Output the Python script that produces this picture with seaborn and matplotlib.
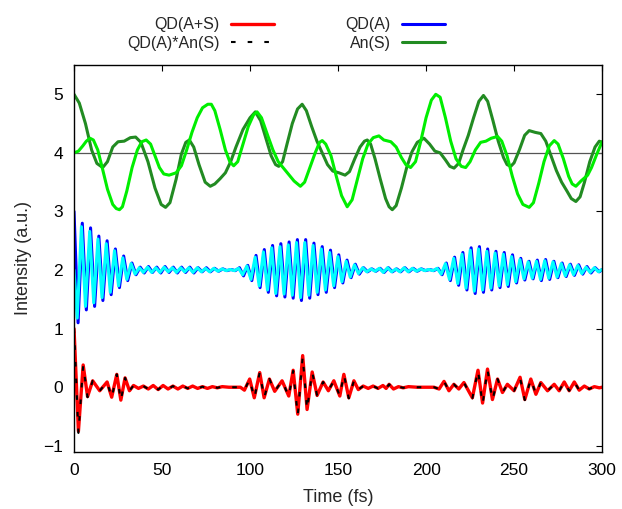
import matplotlib
matplotlib.use("Agg")
import matplotlib.pyplot as plt
import seaborn as sns

# ---- An(S), dark green curve (around 4) ----
t_an_s = [0.0, 3.0, 6.5, 10.0, 13.0, 16.3, 19.0, 22.0, 25.0, 28.5,
          32.0, 35.0, 38.0, 42.0, 46.0, 49.5, 52.0, 54.5, 58.0, 61.0,
          63.5, 65.5, 68.0, 71.0, 74.5, 77.4, 80.0, 83.0, 86.0, 89.0,
          92.0, 96.0, 100.0, 103.0, 106.0, 109.0, 112.0, 114.5, 116.3, 118.5,
          121.0, 124.0, 127.0, 129.6, 132.0, 135.0, 138.0, 141.0, 144.0, 147.0,
          150.5, 154.0, 156.5, 159.5, 162.5, 165.0, 166.6, 168.5, 171.0, 174.0,
          177.0, 179.0, 180.8, 183.0, 186.0, 189.0, 192.0, 195.0, 198.8, 202.0,
          205.0, 208.0, 211.0, 213.5, 215.9, 218.5, 221.0, 224.0, 227.0, 230.0,
          232.6, 235.0, 238.0, 241.0, 244.0, 246.0, 248.1, 250.0, 253.0, 256.0,
          258.6, 262.0, 265.2, 268.0, 271.0, 274.0, 277.0, 280.0, 282.5, 285.1,
          287.5, 290.0, 293.0, 296.0, 298.4, 300.0]
an_s = [5.00, 4.85, 4.50, 4.05, 3.82, 3.75, 3.85, 4.10, 4.19, 4.20,
        4.26, 4.27, 4.18, 3.85, 3.40, 3.12, 3.07, 3.15, 3.55, 3.98,
        4.18, 4.22, 4.10, 3.80, 3.50, 3.43, 3.47, 3.56, 3.66, 3.85,
        4.10, 4.40, 4.60, 4.70, 4.55, 4.25, 3.95, 3.80, 3.77, 3.85,
        4.15, 4.50, 4.75, 4.83, 4.72, 4.45, 4.20, 4.00, 3.80, 3.69,
        3.66, 3.62, 3.68, 3.90, 4.10, 4.20, 4.22, 4.15, 3.90, 3.55,
        3.22, 3.08, 3.03, 3.10, 3.40, 3.75, 4.02, 4.18, 4.25, 4.15,
        4.03, 4.00, 3.88, 3.77, 3.74, 3.82, 4.05, 4.30, 4.60, 4.88,
        4.98, 4.88, 4.55, 4.20, 3.92, 3.80, 3.77, 3.83, 4.05, 4.30,
        4.38, 4.35, 4.33, 4.20, 3.95, 3.70, 3.50, 3.35, 3.22, 3.17,
        3.25, 3.50, 3.85, 4.10, 4.20, 4.18]

# ---- second (bright green) curve around 4, not in the key ----
t_an_s_b = [0.0, 2.5, 5.0, 7.0, 9.1, 11.0, 13.5, 16.0, 19.0, 22.0,
            24.0, 25.8, 27.5, 30.0, 33.0, 36.0, 38.5, 41.0, 43.5, 46.0,
            48.5, 51.0, 54.0, 58.0, 61.0, 64.0, 67.0, 70.0, 73.0, 76.0,
            78.0, 80.0, 83.0, 86.0, 88.5, 90.7, 93.0, 96.0, 99.0, 102.0,
            104.0, 106.5, 110.0, 113.0, 116.0, 119.0, 122.0, 125.0, 128.6, 131.0,
            134.0, 137.0, 139.5, 141.0, 143.0, 146.0, 149.0, 152.0, 155.2, 158.0,
            161.0, 164.0, 167.0, 170.0, 173.2, 176.0, 180.0, 183.0, 186.0, 188.5,
            191.2, 194.0, 197.0, 200.0, 203.0, 205.5, 208.0, 211.0, 214.0, 217.0,
            220.0, 222.5, 225.0, 228.0, 231.0, 234.0, 237.0, 240.6, 243.0, 246.0,
            249.0, 252.0, 255.0, 258.6, 261.0, 264.0, 267.0, 270.0, 272.8, 275.0,
            278.0, 281.0, 283.0, 285.1, 288.0, 291.8, 294.0, 297.0, 300.0]
an_s_b = [4.00, 4.03, 4.12, 4.20, 4.25, 4.22, 4.05, 3.75, 3.38, 3.12,
          3.05, 3.03, 3.08, 3.35, 3.75, 4.05, 4.19, 4.22, 4.15, 3.95,
          3.75, 3.64, 3.62, 3.66, 3.78, 4.05, 4.35, 4.60, 4.77, 4.83,
          4.83, 4.72, 4.40, 4.05, 3.85, 3.78, 3.85, 4.15, 4.45, 4.65,
          4.70, 4.60, 4.30, 4.05, 3.85, 3.74, 3.63, 3.52, 3.43, 3.50,
          3.75, 4.00, 4.18, 4.21, 4.15, 3.95, 3.60, 3.27, 3.08, 3.20,
          3.55, 3.90, 4.15, 4.26, 4.29, 4.22, 4.19, 4.10, 3.92, 3.80,
          3.75, 3.85, 4.20, 4.60, 4.90, 5.00, 4.95, 4.60, 4.20, 3.90,
          3.77, 3.75, 3.85, 4.05, 4.18, 4.20, 4.25, 4.28, 4.20, 3.95,
          3.60, 3.30, 3.12, 3.07, 3.15, 3.48, 3.85, 4.12, 4.21, 4.15,
          3.90, 3.60, 3.47, 3.43, 3.52, 3.62, 3.75, 3.98, 4.19]

# ---- QD(A), blue (around 2), turning points ----
t_qd_a = [0.0, 2.3, 4.7, 7.0, 9.4, 11.7, 14.1, 16.4, 18.8, 21.1,
          23.5, 25.8, 28.2, 30.5, 32.9, 35.2, 37.6, 39.9, 42.3, 44.6,
          47.0, 49.3, 51.7, 54.0, 56.4, 58.7, 61.1, 63.4, 65.8, 68.1,
          70.5, 72.8, 75.2, 77.5, 79.9, 82.2, 84.6, 86.9, 89.3, 91.6,
          94.0, 96.3, 98.7, 101.0, 103.4, 105.7, 108.1, 110.4, 112.8, 115.1,
          117.5, 119.8, 122.2, 124.5, 126.9, 129.2, 131.6, 133.9, 136.3, 138.6,
          141.0, 143.3, 145.7, 148.0, 150.4, 152.7, 155.1, 157.4, 159.8, 162.1,
          164.5, 166.8, 169.2, 171.5, 173.9, 176.2, 178.6, 180.9, 183.3, 185.6,
          188.0, 190.3, 192.7, 195.0, 197.4, 199.7, 202.1, 204.4, 206.8, 209.1,
          211.5, 213.8, 216.2, 218.5, 220.9, 223.2, 225.6, 227.9, 230.3, 232.6,
          235.0, 237.3, 239.7, 242.0, 244.4, 246.7, 249.1, 251.4, 253.8, 256.1,
          258.5, 260.8, 263.2, 265.5, 267.9, 270.2, 272.6, 274.9, 277.3, 279.6,
          282.0, 284.3, 286.7, 289.0, 291.4, 293.7, 296.1, 298.4, 300.0]
qd_a = [3.00, 1.10, 2.80, 1.32, 2.72, 1.38, 2.58, 1.48, 2.50, 1.58,
        2.36, 1.70, 2.24, 1.82, 2.12, 1.92, 2.05, 1.95, 2.06, 1.96,
        2.05, 1.95, 2.06, 1.96, 2.05, 1.95, 2.05, 1.96, 2.05, 1.95,
        2.04, 1.97, 2.04, 1.97, 2.03, 1.98, 2.02, 1.99, 2.01, 1.99,
        2.04, 1.90, 2.08, 1.82, 2.25, 1.70, 2.35, 1.62, 2.42, 1.56,
        2.45, 1.54, 2.48, 1.52, 2.52, 1.48, 2.52, 1.52, 2.46, 1.58,
        2.40, 1.62, 2.34, 1.70, 2.26, 1.78, 2.17, 1.87, 2.10, 1.93,
        2.04, 1.97, 2.02, 1.98, 2.03, 1.96, 2.04, 1.97, 2.02, 1.97,
        2.04, 1.97, 2.03, 1.98, 2.02, 1.99, 2.01, 1.99, 2.03, 1.92,
        2.12, 1.82, 2.22, 1.74, 2.30, 1.66, 2.38, 1.60, 2.40, 1.62,
        2.36, 1.66, 2.32, 1.70, 2.30, 1.72, 2.26, 1.78, 2.20, 1.83,
        2.15, 1.85, 2.17, 1.82, 2.18, 1.84, 2.15, 1.87, 2.12, 1.89,
        2.10, 1.91, 2.09, 1.93, 2.06, 1.95, 2.04, 1.97, 2.01]

# ---- second (cyan) curve around 2, not in the key ----
t_qd_a_b = [0.0, 1.8, 4.2, 6.5, 8.9, 11.2, 13.6, 15.9, 18.3, 20.6,
            23.0, 25.3, 27.7, 30.0, 32.4, 34.7, 37.1, 39.4, 41.8, 44.1,
            46.5, 48.8, 51.2, 53.5, 55.9, 58.2, 60.6, 62.9, 65.3, 67.6,
            70.0, 72.3, 74.7, 77.0, 79.4, 81.7, 84.1, 86.4, 88.8, 91.1,
            93.5, 95.8, 98.2, 100.5, 102.9, 105.2, 107.6, 109.9, 112.3, 114.6,
            117.0, 119.3, 121.7, 124.0, 126.4, 128.7, 131.1, 133.4, 135.8, 138.1,
            140.5, 142.8, 145.2, 147.5, 149.9, 152.2, 154.6, 156.9, 159.3, 161.6,
            164.0, 166.3, 168.7, 171.0, 173.4, 175.7, 178.1, 180.4, 182.8, 185.1,
            187.5, 189.8, 192.2, 194.5, 196.9, 199.2, 201.6, 203.9, 206.3, 208.6,
            211.0, 213.3, 215.7, 218.0, 220.4, 222.7, 225.1, 227.4, 229.8, 232.1,
            234.5, 236.8, 239.2, 241.5, 243.9, 246.2, 248.6, 250.9, 253.3, 255.6,
            258.0, 260.3, 262.7, 265.0, 267.4, 269.7, 272.1, 274.4, 276.8, 279.1,
            281.5, 283.8, 286.2, 288.5, 290.9, 293.2, 295.6, 297.9, 300.0]
qd_a_b = [2.00, 1.18, 2.74, 1.38, 2.66, 1.44, 2.53, 1.53, 2.45, 1.62,
          2.33, 1.73, 2.21, 1.84, 2.11, 1.93, 2.04, 1.96, 2.05, 1.96,
          2.04, 1.96, 2.05, 1.97, 2.04, 1.96, 2.04, 1.97, 2.04, 1.96,
          2.04, 1.97, 2.03, 1.97, 2.03, 1.98, 2.02, 1.99, 2.01, 1.99,
          2.03, 1.92, 2.07, 1.84, 2.22, 1.73, 2.31, 1.66, 2.38, 1.60,
          2.40, 1.59, 2.43, 1.57, 2.47, 1.53, 2.47, 1.57, 2.42, 1.62,
          2.36, 1.66, 2.30, 1.73, 2.23, 1.80, 2.15, 1.88, 2.09, 1.94,
          2.04, 1.97, 2.02, 1.98, 2.03, 1.96, 2.04, 1.97, 2.02, 1.97,
          2.04, 1.97, 2.03, 1.98, 2.02, 1.99, 2.01, 1.99, 2.03, 1.93,
          2.11, 1.84, 2.20, 1.77, 2.27, 1.69, 2.34, 1.64, 2.36, 1.66,
          2.32, 1.69, 2.29, 1.73, 2.27, 1.75, 2.23, 1.80, 2.18, 1.85,
          2.14, 1.86, 2.15, 1.84, 2.16, 1.86, 2.14, 1.88, 2.11, 1.90,
          2.09, 1.92, 2.08, 1.94, 2.05, 1.96, 2.04, 1.97, 2.01]

# ---- QD(A+S) (red) and QD(A)*An(S) (black dashed), around 0 ----
t_qd_as = [0.0, 2.5, 5.2, 7.7, 10.6, 14.6, 18.8, 21.4, 24.3, 26.6,
           29.0, 31.5, 33.8, 36.6, 39.4, 42.2, 45.0, 47.8, 50.6, 53.4,
           56.2, 59.0, 61.8, 64.6, 67.4, 70.2, 73.0, 75.8, 78.6, 81.4,
           84.2, 88.0, 92.0, 94.5, 96.8, 99.8, 102.4, 105.5, 108.0, 111.0,
           114.0, 118.2, 122.0, 124.5, 127.1, 129.9, 132.4, 135.3, 138.1, 141.5,
           144.5, 147.6, 151.0, 153.3, 156.1, 159.0, 161.5, 164.3, 167.1, 169.9,
           172.7, 175.5, 177.3, 179.0, 181.5, 184.3, 187.0, 190.0, 195.0, 200.0,
           204.5, 207.4, 210.2, 213.0, 215.8, 218.6, 221.5, 226.3, 229.5, 232.1,
           234.9, 237.7, 240.6, 243.4, 246.2, 250.0, 253.4, 256.1, 259.5, 262.4,
           265.2, 269.0, 272.8, 275.6, 278.5, 281.3, 284.2, 287.0, 289.9, 292.7,
           295.6, 298.4, 300.0]
qd_as = [1.00, -0.75, 0.38, -0.16, 0.11, -0.06, 0.09, -0.17, 0.22, -0.22,
         0.16, -0.06, 0.03, -0.02, 0.02, -0.03, 0.03, -0.04, 0.03, -0.03,
         0.02, -0.03, 0.02, -0.02, 0.02, -0.02, 0.01, -0.02, 0.01, -0.01,
         0.01, 0.00, 0.00, 0.00, -0.05, 0.14, -0.18, 0.25, -0.18, 0.14,
         -0.07, 0.11, -0.15, 0.29, -0.46, 0.54, -0.38, 0.26, -0.14, 0.09,
         -0.06, 0.11, -0.15, 0.22, -0.18, 0.11, -0.04, 0.02, -0.02, 0.02,
         -0.02, 0.03, -0.02, 0.05, -0.03, 0.01, -0.01, 0.01, 0.00, 0.00,
         0.00, -0.03, 0.10, -0.06, 0.05, -0.03, 0.08, -0.18, 0.29, -0.27,
         0.31, -0.21, 0.14, -0.09, 0.05, -0.06, 0.17, -0.21, 0.14, -0.12,
         0.08, -0.06, 0.05, -0.06, 0.09, -0.06, 0.09, -0.05, 0.02, -0.03,
         0.01, -0.01, 0.00]
qd_a_an_s = [1.00, -0.78, 0.37, -0.17, 0.11, -0.06, 0.09, -0.18, 0.22, -0.23,
             0.16, -0.06, 0.03, -0.02, 0.02, -0.03, 0.03, -0.04, 0.03, -0.03,
             0.02, -0.03, 0.02, -0.02, 0.02, -0.02, 0.01, -0.02, 0.01, -0.01,
             0.01, 0.00, 0.00, 0.00, -0.05, 0.14, -0.19, 0.25, -0.18, 0.14,
             -0.07, 0.11, -0.16, 0.28, -0.48, 0.52, -0.38, 0.26, -0.14, 0.09,
             -0.06, 0.11, -0.15, 0.22, -0.19, 0.11, -0.04, 0.02, -0.02, 0.02,
             -0.02, 0.03, -0.02, 0.05, -0.03, 0.01, -0.01, 0.01, 0.00, 0.00,
             0.00, -0.03, 0.10, -0.06, 0.05, -0.03, 0.08, -0.19, 0.29, -0.29,
             0.30, -0.22, 0.14, -0.09, 0.05, -0.06, 0.16, -0.22, 0.14, -0.12,
             0.08, -0.06, 0.05, -0.06, 0.09, -0.06, 0.09, -0.05, 0.02, -0.03,
             0.01, -0.01, 0.00]

sns.set_style("white")
plt.rcParams['font.family'] = ['Liberation Sans', 'DejaVu Sans']

fig = plt.figure(figsize=(6.22, 5.09), dpi=100)
ax = fig.add_axes([0.119, 0.1126, 0.849, 0.7597])

ax.axhline(4, color='#555555', lw=0.9, zorder=1)

sns.lineplot(x=t_qd_as, y=qd_as, ax=ax, color='#ff0000', lw=2.4,
             sort=False, estimator=None, label='QD(A+S)')
sns.lineplot(x=t_qd_as, y=qd_a_an_s, ax=ax, color='black', lw=1.5,
             sort=False, estimator=None, label='QD(A)*An(S)')
ax.get_lines()[-1].set_dashes((2.2, 5.8))
sns.lineplot(x=t_qd_a, y=qd_a, ax=ax, color='#0000ff', lw=2.2,
             sort=False, estimator=None, label='QD(A)')
sns.lineplot(x=t_qd_a_b, y=qd_a_b, ax=ax, color='#00ffff', lw=2.2,
             sort=False, estimator=None, label='_cyan')
sns.lineplot(x=t_an_s, y=an_s, ax=ax, color='#228b22', lw=2.2,
             sort=False, estimator=None, label='An(S)')
sns.lineplot(x=t_an_s_b, y=an_s_b, ax=ax, color='#00ee00', lw=2.2,
             sort=False, estimator=None, label='_lime')

ax.set_xlim(0, 300)
ax.set_ylim(-1.1, 5.5)
ax.set_xticks([0, 50, 100, 150, 200, 250, 300])
ax.set_yticks([-1, 0, 1, 2, 3, 4, 5])
ax.tick_params(direction='in', top=True, right=True, length=4.3, width=0.8,
               labelsize=12.5, pad=8, colors='black')
for sp in ax.spines.values():
    sp.set_color('black')
    sp.set_linewidth(1.0)

ax.set_xlabel('Time (fs)', fontsize=13, labelpad=8)
ax.set_ylabel('Intensity (a.u.)', fontsize=13, labelpad=8)

lines = {l.get_label(): l for l in ax.get_lines()}
keys = ['QD(A+S)', 'QD(A)*An(S)', 'QD(A)', 'An(S)']
ax.legend(handles=[lines[k] for k in keys], labels=keys, ncol=2,
          markerfirst=False, frameon=False, loc='center',
          bbox_to_anchor=(0.46, 0.933), bbox_transform=fig.transFigure,
          fontsize=11.5, handlelength=2.7, handletextpad=0.7,
          columnspacing=4.5, labelspacing=0.22, borderpad=0, borderaxespad=0)

fig.savefig('out.png', dpi=100)
